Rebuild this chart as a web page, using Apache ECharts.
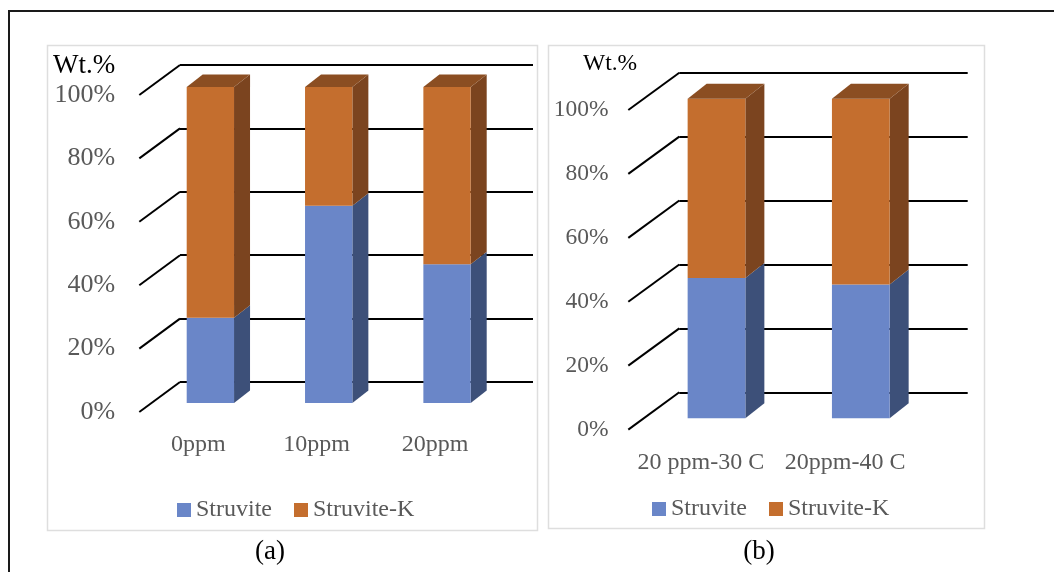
<!DOCTYPE html>
<html>
<head>
<meta charset="utf-8">
<script src="https://cdn.jsdelivr.net/npm/echarts@6/dist/echarts.min.js"></script>
<style>
  html, body { margin: 0; padding: 0; background: #fff; }
  #chart { width: 1054px; height: 572px; }
</style>
</head>
<body>
<div id="chart"></div>
<script>
// ---- data ----
const categoriesA = ['0ppm', '10ppm', '20ppm'];
const struviteA   = [27, 62.4, 43.9];
const struviteKA  = [73, 37.6, 56.1];

const categoriesB = ['20 ppm-30 C', '20ppm-40 C'];
const struviteB   = [43.9, 41.9];
const struviteKB  = [56.1, 58.1];

const yTicks = [0, 20, 40, 60, 80, 100];
const seriesNames = ['Struvite', 'Struvite-K'];

// ---- styling ----
const FONT = "'Liberation Serif', 'Times New Roman', serif";
const COLORS = {
  Struvite:     { front: '#6a86c8', side: '#3d5079', top: '#4f6aa4' },
  'Struvite-K': { front: '#c46e2e', side: '#7b441f', top: '#8b4e22' }
};

// Each panel is three stacked planes: the back wall (grid lines),
// the plane of the bar fronts, and the front plane carrying the labels.
const panels = [
  {
    categories: categoriesA, struvite: struviteA, struviteK: struviteKA,
    back:  { left: 180,   top: 65,  width: 353, height: 317 },
    bars:  { left: 151.2, top: 87,  width: 355, height: 316 },
    front: { left: 139.2, top: 95,  width: 355, height: 317 },
    slant: [-40.7, 30], depth: [16, -12.5],
    tickFont: 26, tickMargin: 24
  },
  {
    categories: categoriesB, struvite: struviteB, struviteK: struviteKB,
    back:  { left: 679.3,  top: 72.7, width: 288.4, height: 319.6 },
    bars:  { left: 644.35, top: 98.7, width: 288.6, height: 319.6 },
    front: { left: 628.65, top: 110,  width: 288.6, height: 320 },
    slant: [-51, 37.3], depth: [19, -15],
    tickFont: 23.5, tickMargin: 20
  }
];

const grid = [], xAxis = [], yAxis = [], series = [];

function barRenderer(name, depth, isTop) {
  const c = COLORS[name];
  return function (params, api) {
    const cat = api.value(0), lo = api.value(1), hi = api.value(2);
    const pLo = api.coord([cat, lo]);
    const pHi = api.coord([cat, hi]);
    const w = api.size([1, 0])[0] * 0.4;
    const x0 = pLo[0] - w / 2, x1 = pLo[0] + w / 2;
    const yb = pLo[1], yt = pHi[1];
    const dx = depth[0], dy = depth[1];
    const children = [
      { type: 'polygon', shape: { points: [[x1, yb], [x1 + dx, yb + dy], [x1 + dx, yt + dy], [x1, yt]] },
        style: { fill: c.side } },
      { type: 'rect', shape: { x: x0, y: yt, width: w, height: yb - yt },
        style: { fill: c.front } }
    ];
    if (isTop) {
      children.push({ type: 'polygon',
        shape: { points: [[x0, yt], [x0 + dx, yt + dy], [x1 + dx, yt + dy], [x1, yt]] },
        style: { fill: c.top } });
    }
    return { type: 'group', children };
  };
}

panels.forEach((p, k) => {
  const gBack = grid.length, gBars = gBack + 1, gFront = gBack + 2;
  grid.push(p.back, p.bars, p.front);

  // back wall
  xAxis.push({ gridIndex: gBack, type: 'value', min: 0, max: 1, show: false });
  yAxis.push({
    gridIndex: gBack, type: 'value', min: 0, max: 100, interval: 20,
    axisLine: { show: false }, axisTick: { show: false }, axisLabel: { show: false },
    splitLine: { show: true, lineStyle: { color: '#000', width: 2 } }
  });
  // bar plane
  xAxis.push({ gridIndex: gBars, type: 'category', data: p.categories, show: false });
  yAxis.push({ gridIndex: gBars, type: 'value', min: 0, max: 100, show: false });
  // front plane with labels
  xAxis.push({
    gridIndex: gFront, type: 'category', data: p.categories,
    axisLine: { show: false }, axisTick: { show: false }, splitLine: { show: false },
    axisLabel: { interval: 0, fontSize: 24, color: '#595959', fontFamily: FONT, margin: 21 }
  });
  yAxis.push({
    gridIndex: gFront, type: 'value', min: 0, max: 100, interval: 20,
    axisLine: { show: false }, axisTick: { show: false }, splitLine: { show: false },
    axisLabel: { formatter: '{value}%', fontSize: p.tickFont, color: '#595959',
                 fontFamily: FONT, margin: p.tickMargin }
  });

  // slanted floor-to-wall lines at each tick
  series.push({
    type: 'custom', name: 'wall' + k, silent: true, z: 1,
    xAxisIndex: gBack, yAxisIndex: gBack,
    data: yTicks.map(v => [0, v]),
    renderItem: function (params, api) {
      const pt = api.coord([0, api.value(1)]);
      return { type: 'line',
        shape: { x1: pt[0], y1: pt[1], x2: pt[0] + p.slant[0], y2: pt[1] + p.slant[1] },
        style: { stroke: '#000', lineWidth: 2 } };
    }
  });

  // stacked bars
  const lower = p.struvite.map((v, i) => [i, 0, v]);
  const upper = p.struviteK.map((v, i) => [i, p.struvite[i], p.struvite[i] + v]);
  series.push({
    type: 'custom', name: 'Struvite', z: 2,
    xAxisIndex: gBars, yAxisIndex: gBars,
    itemStyle: { color: COLORS.Struvite.front },
    encode: { x: 0, y: [1, 2] },
    data: lower,
    renderItem: barRenderer('Struvite', p.depth, false)
  });
  series.push({
    type: 'custom', name: 'Struvite-K', z: 3,
    xAxisIndex: gBars, yAxisIndex: gBars,
    itemStyle: { color: COLORS['Struvite-K'].front },
    encode: { x: 0, y: [1, 2] },
    data: upper,
    renderItem: barRenderer('Struvite-K', p.depth, true)
  });
});

const legendBase = {
  data: seriesNames, icon: 'rect', itemWidth: 14, itemHeight: 14, itemGap: 22, padding: 0,
  textStyle: { fontSize: 24, color: '#595959', fontFamily: FONT }
};

const chart = echarts.init(document.getElementById('chart'));
chart.setOption({
  animation: false,
  backgroundColor: '#fff',
  grid, xAxis, yAxis, series,
  legend: [
    Object.assign({ left: 177, top: 498 }, legendBase),
    Object.assign({ left: 652, top: 497 }, legendBase)
  ],
  graphic: [
    { type: 'rect', z: -10, silent: true,
      shape: { x: 9, y: 11, width: 1100, height: 600 },
      style: { fill: 'none', stroke: '#1a1a1a', lineWidth: 2 } },
    { type: 'rect', z: -10, silent: true,
      shape: { x: 47.5, y: 45.5, width: 490, height: 485 },
      style: { fill: 'none', stroke: '#dedede', lineWidth: 1.5 } },
    { type: 'rect', z: -10, silent: true,
      shape: { x: 548.5, y: 45.5, width: 436, height: 483 },
      style: { fill: 'none', stroke: '#dedede', lineWidth: 1.5 } },
    { type: 'text', left: 53, top: 52,
      style: { text: 'Wt.%', fontSize: 27, fill: '#000', fontFamily: FONT } },
    { type: 'text', left: 583, top: 52,
      style: { text: 'Wt.%', fontSize: 23.5, fill: '#000', fontFamily: FONT } },
    { type: 'text', x: 270, y: 552,
      style: { text: '(a)', fontSize: 27, fill: '#000', fontFamily: FONT,
               align: 'center', verticalAlign: 'middle' } },
    { type: 'text', x: 759, y: 552,
      style: { text: '(b)', fontSize: 27, fill: '#000', fontFamily: FONT,
               align: 'center', verticalAlign: 'middle' } }
  ]
});
</script>
</body>
</html>
